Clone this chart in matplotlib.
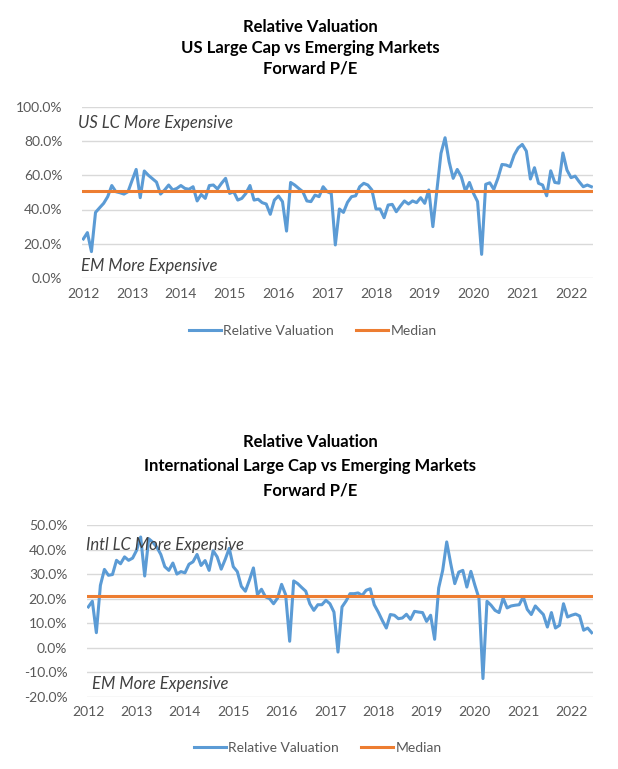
import matplotlib
matplotlib.use("Agg")
import matplotlib.pyplot as plt
import numpy as np

# ---------------- data ----------------
years = ["2012", "2013", "2014", "2015", "2016", "2017", "2018", "2019", "2020", "2021", "2022"]

us_vs_em = [
    22.8, 26.5, 15.4, 38.3, 41.0, 43.6, 47.5, 54.0, 50.4, 49.8, 49.0, 50.4,
    57.0, 63.4, 46.9, 62.5, 60.0, 58.0, 56.0, 49.0, 51.4, 54.3, 51.4, 52.3,
    54.0, 52.3, 51.8, 53.3, 45.0, 48.8, 46.5, 54.0, 54.3, 52.0, 55.3, 58.2,
    49.4, 50.4, 45.5, 46.5, 49.4, 54.0, 45.5, 46.0, 44.0, 43.2, 37.2, 45.5,
    47.9, 44.6, 27.4, 55.8, 54.3, 52.3, 50.4, 45.0, 44.6, 48.4, 47.5, 53.3,
    50.4, 49.4, 19.3, 40.3, 38.3, 44.2, 47.5, 48.0, 53.3, 55.3, 54.3, 51.4,
    40.3, 40.3, 35.2, 42.6, 43.0, 38.7, 42.0, 45.0, 43.2, 45.0, 44.0, 46.9,
    43.6, 51.4, 30.0, 51.4, 72.8, 81.9, 67.9, 58.2, 63.4, 59.1, 50.8, 55.8,
    49.4, 44.6, 13.8, 54.7, 55.6, 51.8, 58.2, 66.3, 66.0, 65.0, 71.8, 76.0,
    78.0, 74.1, 57.8, 64.4, 55.3, 54.3, 48.0, 62.6, 55.8, 55.4, 73.0, 63.0,
    58.6, 59.5, 56.2, 53.3, 54.3, 53.3,
]
us_median = 51.0

intl_vs_em = [
    16.6, 18.9, 6.1, 25.4, 31.9, 29.5, 29.8, 35.6, 34.2, 37.0, 35.6, 36.5,
    39.7, 45.1, 29.2, 44.4, 43.0, 41.0, 38.0, 33.0, 31.5, 34.5, 30.0, 31.0,
    30.5, 34.0, 35.0, 38.0, 33.5, 35.5, 31.5, 39.5, 37.0, 32.0, 36.0, 40.5,
    33.0, 31.0, 25.0, 23.0, 27.5, 32.5, 21.6, 23.8, 20.7, 20.0, 17.9, 20.2,
    25.8, 21.6, 2.6, 27.2, 26.1, 24.5, 23.0, 17.9, 15.2, 17.5, 17.5, 19.3,
    17.9, 14.5, -1.8, 16.6, 19.0, 22.0, 22.0, 22.3, 21.3, 23.4, 24.0, 17.5,
    14.5, 11.1, 8.0, 13.5, 13.2, 11.8, 12.1, 13.6, 11.5, 14.8, 14.5, 14.3,
    10.7, 13.2, 3.4, 24.3, 31.5, 43.1, 34.2, 26.1, 30.8, 31.5, 24.7, 31.1,
    25.4, 20.2, -12.6, 18.9, 17.3, 15.2, 14.3, 20.2, 16.2, 17.0, 17.3, 17.5,
    20.7, 15.6, 13.5, 17.0, 15.2, 13.5, 8.4, 14.3, 8.0, 9.1, 17.9, 12.5,
    13.2, 13.7, 12.9, 7.1, 8.0, 6.1,
]
intl_median = 20.9

top_titles = ["Relative Valuation", "US Large Cap vs Emerging Markets", "Forward P/E"]
bot_titles = ["Relative Valuation", "International Large Cap vs Emerging Markets", "Forward P/E"]

# ---------------- style ----------------
plt.rcParams['font.family'] = ['Lato', 'DejaVu Sans']
BLUE = "#5B9BD5"
ORANGE = "#ED7D31"
GRID = "#D9D9D9"
TICK = "#595959"

W, H = 618, 769
fig = plt.figure(figsize=(W / 100, H / 100), dpi=100)


def px_axes(left, top, right, bottom):
    return fig.add_axes([left / W, 1 - bottom / H, (right - left) / W, (bottom - top) / H])


def style(ax, ylim, yticks):
    ax.set_ylim(*ylim)
    ax.set_yticks(yticks)
    ax.set_yticklabels([f"{v:.1f}%" for v in yticks])
    ax.set_xlim(-0.4, 125.4)
    ax.set_xticks([12 * k for k in range(len(years))])
    ax.set_xticklabels(years)
    for s in ax.spines.values():
        s.set_visible(False)
    ax.tick_params(length=0, colors=TICK, labelsize=10)
    ax.tick_params(axis='y', pad=14)
    ax.tick_params(axis='x', pad=7)
    ax.grid(axis='y', color=GRID, lw=1.0)
    ax.set_axisbelow(True)


def draw(ax, series, median):
    x = np.arange(len(series))
    l1, = ax.plot(x, series, color=BLUE, lw=2.2, solid_joinstyle='round', label="Relative Valuation")
    l2, = ax.plot(x, [median] * len(series), color=ORANGE, lw=2.2, label="Median")
    return l1, l2


# Top chart
ax1 = px_axes(81.7, 106.75, 593, 278)
style(ax1, (0, 100), [0, 20, 40, 60, 80, 100])
h = draw(ax1, us_vs_em, us_median)
for i, t in enumerate(top_titles):
    fig.text(310 / W, 1 - (27 + 21 * i) / H, t, ha='center', va='center',
             fontsize=12, fontweight='bold', color='black')
fig.text(78 / W, 1 - 123 / H, "US LC More Expensive", ha='left', va='center',
         fontsize=12, style='italic', color='#404040')
fig.text(81 / W, 1 - 266 / H, "EM More Expensive", ha='left', va='center',
         fontsize=12, style='italic', color='#404040')
fig.legend(h, [x.get_label() for x in h], loc='center', bbox_to_anchor=(313 / W, 1 - 331 / H),
           ncol=2, frameon=False, fontsize=10, labelcolor=TICK, handlelength=2.3,
           handletextpad=0.2, columnspacing=1.6)

# Bottom chart
ax2 = px_axes(86.7, 525, 593.3, 696.7)
style(ax2, (-20, 50), [-20, -10, 0, 10, 20, 30, 40, 50])
h2 = draw(ax2, intl_vs_em, intl_median)
for i, t in enumerate(bot_titles):
    fig.text(310 / W, 1 - (442 + 24.5 * i) / H, t, ha='center', va='center',
             fontsize=12, fontweight='bold', color='black')
fig.text(86 / W, 1 - 545 / H, "Intl LC More Expensive", ha='left', va='center',
         fontsize=12, style='italic', color='#404040')
fig.text(92 / W, 1 - 684 / H, "EM More Expensive", ha='left', va='center',
         fontsize=12, style='italic', color='#404040')
fig.legend(h2, [x.get_label() for x in h2], loc='center', bbox_to_anchor=(318 / W, 1 - 748 / H),
           ncol=2, frameon=False, fontsize=10, labelcolor=TICK, handlelength=2.3,
           handletextpad=0.2, columnspacing=1.6)

fig.savefig("out.png", dpi=100, facecolor='white')
